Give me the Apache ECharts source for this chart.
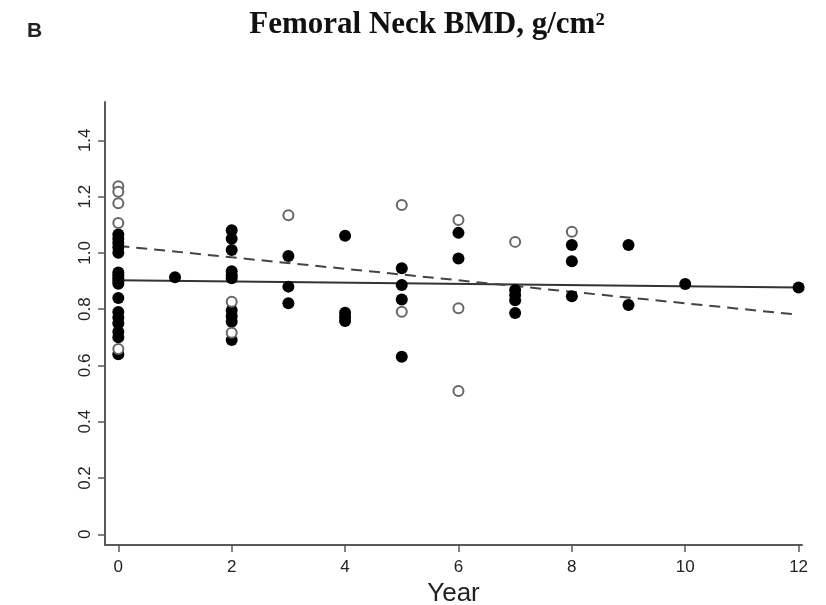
<!DOCTYPE html>
<html>
<head>
<meta charset="utf-8">
<script src="https://cdn.jsdelivr.net/npm/echarts@6/dist/echarts.min.js"></script>
<style>html,body{margin:0;padding:0;background:#fff}#c{width:826px;height:605px}</style>
</head>
<body>
<div id="c"></div>
<script>
// ---- data ----
var filledYears = [0,0,0,0,0,0,0,0,0,0,0,0,0,0,0,0,0, 1, 2,2,2,2,2,2,2,2,2,2, 3,3,3, 4,4,4,4, 5,5,5,5, 6,6, 7,7,7,7, 8,8,8, 9,9, 10, 12];
var filledBMD   = [1.065,1.05,1.035,1.02,1.0,0.93,0.92,0.91,0.90,0.89,0.84,0.79,0.77,0.75,0.72,0.70,0.64,
                   0.913,
                   1.08,1.05,1.01,0.935,0.92,0.91,0.795,0.775,0.755,0.69,
                   0.989,0.88,0.821,
                   1.061,0.787,0.772,0.758,
                   0.945,0.886,0.834,0.631,
                   1.071,0.98,
                   0.868,0.85,0.832,0.786,
                   1.028,0.97,0.846,
                   1.028,0.815,
                   0.889,
                   0.877];
var openYears = [0,0,0,0,0, 2,2, 3, 5,5, 6,6,6, 7, 8];
var openBMD   = [1.237,1.217,1.176,1.106,0.658, 0.826,0.716, 1.134, 1.17,0.791, 1.117,0.803,0.509, 1.039, 1.075];
var solidFitYears = [0, 12];
var solidFitBMD   = [0.903, 0.877];
var dashedFitYears = [0, 12];
var dashedFitBMD   = [1.025, 0.78];
var xTicks = [0,2,4,6,8,10,12];
var yTicks = [0,0.2,0.4,0.6,0.8,1.0,1.2,1.4];
var titleText = 'Femoral Neck BMD, g/cm\u00B2';
var panelLabel = 'B';
var xName = 'Year';

function pairs(xs, ys){ return xs.map(function(x,i){ return [x, ys[i]]; }); }

var chart = echarts.init(document.getElementById('c'), null, {renderer:'canvas'});
var axisColor = '#5a5a5a';
chart.setOption({
  animation:false,
  backgroundColor:'#fff',
  title:[
    {text:titleText, left:422, top:4, textAlign:'center',
     textStyle:{fontFamily:'Liberation Serif', fontWeight:'bold', fontSize:31, color:'#111'}},
    {text:panelLabel, left:22, top:16,
     textStyle:{fontFamily:'Liberation Sans', fontWeight:'bold', fontSize:21, color:'#222'}}
  ],
  grid:{left:105, right:24, top:102, bottom:60, outerBoundsMode:'none', containLabel:false},
  xAxis:{
    type:'value', min:-0.235, max:12.06,
    name:xName, nameLocation:'middle', nameGap:34,
    nameTextStyle:{fontFamily:'Liberation Sans', fontSize:26, color:'#222'},
    axisLine:{show:true, onZero:false, lineStyle:{color:axisColor, width:2}},
    axisTick:{show:true, customValues:xTicks, length:7, lineStyle:{color:axisColor, width:1.5}},
    axisLabel:{customValues:xTicks, margin:14, fontFamily:'Liberation Sans', fontSize:17, color:'#222'},
    splitLine:{show:false}
  },
  yAxis:{
    type:'value', min:-0.038, max:1.536,
    axisLine:{show:true, onZero:false, lineStyle:{color:axisColor, width:2}},
    axisTick:{show:true, customValues:yTicks, length:7, lineStyle:{color:axisColor, width:1.5}},
    axisLabel:{customValues:yTicks, rotate:90, margin:11, fontFamily:'Liberation Sans', fontSize:17, color:'#222',
      formatter:function(v){ return v===0 ? '0' : v.toFixed(1); }},
    splitLine:{show:false}
  },
  series:[
    {type:'line', data:pairs(solidFitYears, solidFitBMD), symbol:'none', silent:true,
     lineStyle:{color:'#333', width:2}, z:2},
    {type:'line', data:pairs(dashedFitYears, dashedFitBMD), symbol:'none', silent:true,
     lineStyle:{color:'#444', width:2, type:[11,7]}, z:2},
    {type:'scatter', data:pairs(filledYears, filledBMD), symbol:'circle', symbolSize:12,
     itemStyle:{color:'#000', opacity:1}, z:3},
    {type:'scatter', data:pairs(openYears, openBMD), symbol:'circle', symbolSize:10,
     itemStyle:{color:'#fff', borderColor:'#666', borderWidth:2, opacity:1}, z:4}
  ]
});
</script>
</body>
</html>
